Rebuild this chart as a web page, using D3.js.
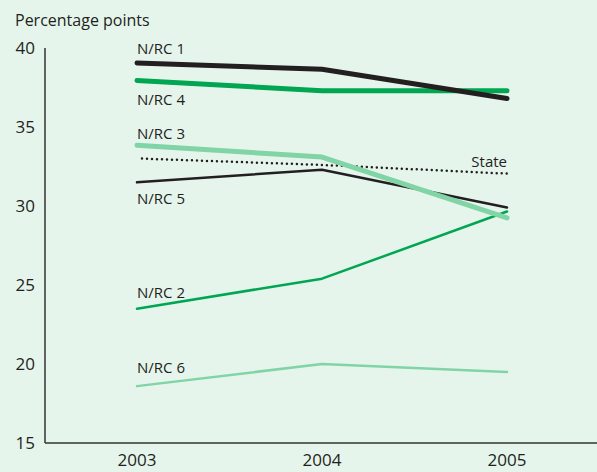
<!DOCTYPE html>
<html>
<head>
<meta charset="utf-8">
<script src="https://cdn.jsdelivr.net/npm/d3@7"></script>
<style>
  body { margin: 0; background: #e6f5ec; }
  svg { display: block; font-family: "Open Sans", "Noto Sans", sans-serif; }
  .tick-label { font-size: 17px; fill: #231f20; }
  .series-label { font-size: 15px; fill: #231f20; }
</style>
</head>
<body>
<div id="chart"></div>
<script>
const years = [2003, 2004, 2005];
const yTicks = [15, 20, 25, 30, 35, 40];

const nrc1 = [39.05, 38.65, 36.8];
const nrc4 = [37.95, 37.3, 37.3];
const nrc3 = [33.85, 33.1, 29.25];
const state = [33.0, 32.6, 32.05];
const nrc5 = [31.5, 32.3, 29.9];
const nrc2 = [23.5, 25.4, 29.65];
const nrc6 = [18.6, 20.0, 19.5];

const black = '#231f20', green = '#00a651', light = '#80d4a6';

// series: values, colour, width, dotted?, label, label placement
const series = [
  { name: 'N/RC 6', values: nrc6, color: light, width: 2.5, lx: 2003, ly: 19.43 },
  { name: 'N/RC 2', values: nrc2, color: green, width: 2.5, lx: 2003, ly: 24.18 },
  { name: 'N/RC 5', values: nrc5, color: black, width: 2.5, lx: 2003, ly: 30.15 },
  { name: 'State', values: state, color: black, width: 2.5, dotted: true, lx: 2005, ly: 32.5, anchor: 'end' },
  { name: 'N/RC 3', values: nrc3, color: light, width: 5, lx: 2003, ly: 34.25 },
  { name: 'N/RC 4', values: nrc4, color: green, width: 5, lx: 2003, ly: 36.4 },
  { name: 'N/RC 1', values: nrc1, color: black, width: 5, lx: 2003, ly: 39.6 }
];

const width = 597, height = 472;
const svg = d3.select('#chart').append('svg')
  .attr('width', width)
  .attr('height', height);

svg.append('rect').attr('width', width).attr('height', height).attr('fill', '#e6f5ec');

const x = d3.scaleLinear().domain([2003, 2005]).range([137, 507]);
const y = d3.scaleLinear().domain([15, 40]).range([443, 48]);

// axes
svg.append('line')
  .attr('x1', 45).attr('x2', 45)
  .attr('y1', y(40)).attr('y2', y(15))
  .attr('stroke', '#333').attr('stroke-width', 1.5);
svg.append('line')
  .attr('x1', 45).attr('x2', width)
  .attr('y1', y(15)).attr('y2', y(15))
  .attr('stroke', '#333').attr('stroke-width', 1.5);

svg.selectAll('.ytick')
  .data(yTicks)
  .enter().append('text')
  .attr('class', 'tick-label')
  .attr('x', 35)
  .attr('y', d => y(d) + 6)
  .attr('text-anchor', 'end')
  .text(d => d);

svg.selectAll('.xtick')
  .data(years)
  .enter().append('text')
  .attr('class', 'tick-label')
  .attr('x', d => x(d))
  .attr('y', 466)
  .attr('text-anchor', 'middle')
  .text(d => d);

svg.append('text')
  .attr('x', 15).attr('y', 26)
  .attr('font-size', 16).attr('fill', '#231f20')
  .text('Percentage points');

const line = d3.line()
  .x((d, i) => x(years[i]))
  .y(d => y(d));

series.forEach(s => {
  const p = svg.append('path')
    .datum(s.values)
    .attr('d', line)
    .attr('fill', 'none')
    .attr('stroke', s.color)
    .attr('stroke-width', s.width)
    .attr('stroke-linecap', 'round')
    .attr('stroke-linejoin', 'round');
  if (s.dotted) {
    p.attr('d', d3.line().x((d, i) => i === 0 ? x(years[i]) + 5 : x(years[i])).y(d => y(d))(s.values))
      .attr('stroke-dasharray', '0 5');
  }
  svg.append('text')
    .attr('class', 'series-label')
    .attr('x', x(s.lx))
    .attr('y', y(s.ly))
    .attr('text-anchor', s.anchor || 'start')
    .text(s.name);
});
</script>
</body>
</html>
